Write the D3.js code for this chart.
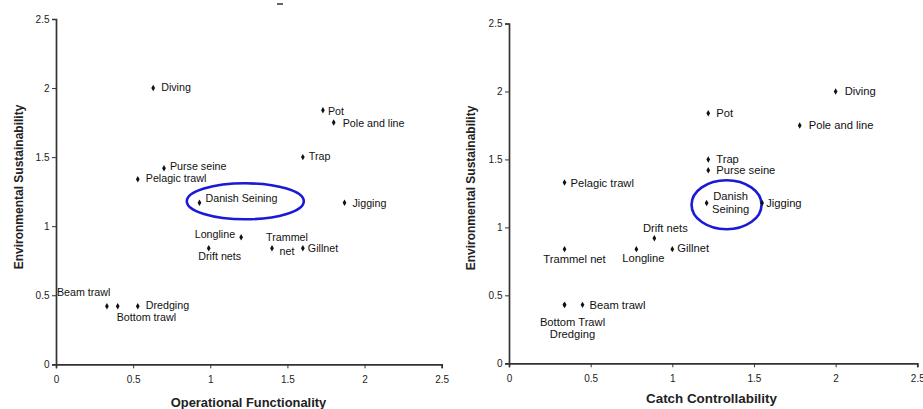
<!DOCTYPE html>
<html>
<head>
<meta charset="utf-8">
<script src="https://cdn.jsdelivr.net/npm/d3@7"></script>
<style>
  body { margin: 0; background: #fff; }
  svg { display: block; font-family: "Liberation Sans", Arial, sans-serif; }
  .tick text { font-size: 10px; fill: #222; }
  .domain, .tick line { stroke: #333; }
  .pt-label { fill: #111; }
  .axis-title { font-weight: bold; fill: #222; }
</style>
</head>
<body>
<div id="chart"></div>
<script>
// Data
var tickValues = [0, 0.5, 1, 1.5, 2, 2.5];

// left panel: Operational Functionality vs Environmental Sustainability
var leftNames = ["Diving", "Pot", "Pole and line", "Trap", "Purse seine", "Pelagic trawl",
  "Danish Seining", "Jigging", "Longline", "Drift nets", "Trammel\nnet", "Gillnet",
  "Beam trawl", "Bottom trawl", "Dredging"];
var operationalFunctionality = [0.63, 1.73, 1.80, 1.60, 0.70, 0.53, 0.93, 1.87, 1.20, 0.99, 1.40, 1.60, 0.33, 0.40, 0.53];
var leftSustainability = [2.0, 1.84, 1.75, 1.50, 1.42, 1.34, 1.17, 1.17, 0.92, 0.84, 0.84, 0.84, 0.42, 0.42, 0.42];

// right panel: Catch Controllability vs Environmental Sustainability
var rightNames = ["Diving", "Pot", "Pole and line", "Trap", "Purse seine", "Pelagic trawl",
  "Danish\nSeining", "Jigging", "Drift nets", "Trammel net", "Longline", "Gillnet",
  "Beam trawl", "Bottom Trawl", "Dredging"];
var catchControllability = [2.0, 1.22, 1.78, 1.22, 1.22, 0.34, 1.21, 1.55, 0.89, 0.34, 0.78, 1.0, 0.45, 0.34, 0.34];
var rightSustainability = [2.0, 1.84, 1.75, 1.50, 1.42, 1.33, 1.18, 1.18, 0.92, 0.84, 0.84, 0.84, 0.43, 0.43, 0.43];

// label placement (dx, dy, anchor) relative to each point
var leftPlace = [
  [8, 3, "start"], [5, 5, "start"], [9, 4, "start"], [6, 3, "start"], [6, 2, "start"], [8, 3, "start"],
  [6, -1, "start"], [8, 4, "start"], [-6, 1, "end"], [11, 12, "middle"], [15, -7, "middle"], [5, 4, "start"],
  [-50, -10, "start"], [-1, 15, "start"], [8, 3, "start"]
];
var rightPlace = [
  [9, 4, "start"], [8, 4, "start"], [9, 4, "start"], [8, 4, "start"], [8, 4, "start"], [6, 4, "start"],
  [24, -3, "middle"], [4, 4, "start"], [11, -6, "middle"], [10, 14, "middle"], [7, 13, "middle"], [5, 3, "start"],
  [7, 4, "start"], [8, 21, "middle"], [8, 33, "middle"]
];

var svgWidth = 923;
var svgHeight = 409;

var svg = d3.select("#chart")
  .append("svg")
  .attr("width", svgWidth)
  .attr("height", svgHeight);

svg.append("rect").attr("width", svgWidth).attr("height", svgHeight).attr("fill", "#fff");

// small stray mark at the top of the original figure
svg.append("line")
  .attr("x1", 277).attr("x2", 283).attr("y1", 4).attr("y2", 4)
  .attr("stroke", "#333").attr("stroke-width", 1.5);

function drawPanel(p) {
  var xScale = d3.scaleLinear().domain([0, 2.5]).range([p.x0, p.x1]);
  var yScale = d3.scaleLinear().domain([0, 2.5]).range([p.y0, p.y1]);

  var g = svg.append("g");

  g.append("g")
    .attr("transform", `translate(0, ${p.y0})`)
    .call(d3.axisBottom(xScale).tickValues(tickValues).tickFormat(d3.format("")).tickSize(4).tickPadding(p.xPad))
    .call(a => a.select(".domain").attr("stroke", p.axisColor).attr("stroke-width", 1.7));

  g.append("g")
    .attr("transform", `translate(${p.x0}, 0)`)
    .call(d3.axisLeft(yScale).tickValues(tickValues).tickFormat(d3.format("")).tickSize(4).tickPadding(2.5))
    .call(a => a.select(".domain").attr("stroke", p.axisColor).attr("stroke-width", 1.7));

  // highlight ellipse
  g.append("ellipse")
    .attr("cx", xScale(p.ellipse[0]))
    .attr("cy", yScale(p.ellipse[1]))
    .attr("rx", p.ellipse[2])
    .attr("ry", p.ellipse[3])
    .attr("fill", "none")
    .attr("stroke", "#1a1ad6")
    .attr("stroke-width", 2.6);

  var pts = p.names.map((n, i) => ({ name: n, x: p.xs[i], y: p.ys[i], place: p.place[i] }));

  g.selectAll("path.pt")
    .data(pts)
    .enter()
    .append("path")
    .attr("class", "pt")
    .attr("d", d3.symbol(d3.symbolDiamond, 12))
    .attr("transform", d => `translate(${xScale(d.x)}, ${yScale(d.y)})`)
    .attr("fill", "#111");

  var labels = g.selectAll("text.pt-label")
    .data(pts)
    .enter()
    .append("text")
    .attr("class", "pt-label")
    .attr("font-size", p.labelSize)
    .attr("text-anchor", d => d.place[2]);

  labels.each(function(d) {
    var lines = d.name.split("\n");
    var t = d3.select(this);
    lines.forEach(function(line, k) {
      t.append("tspan")
        .attr("x", xScale(d.x) + d.place[0])
        .attr("y", yScale(d.y) + d.place[1] + k * 13.3)
        .text(line);
    });
  });

  // axis titles
  g.append("text")
    .attr("class", "axis-title")
    .attr("font-size", p.xTitleSize)
    .attr("text-anchor", "middle")
    .attr("x", p.xTitleX)
    .attr("y", p.xTitleY)
    .text(p.xTitle);

  g.append("text")
    .attr("class", "axis-title")
    .attr("font-size", 12)
    .attr("text-anchor", "middle")
    .attr("transform", `translate(${p.yTitleX}, ${p.yTitleY}) rotate(-90)`)
    .text("Environmental Sustainability");
}

drawPanel({
  x0: 56, x1: 441.7, y0: 364.3, y1: 19, axisColor: "#444", xPad: 8,
  names: leftNames, xs: operationalFunctionality, ys: leftSustainability, place: leftPlace,
  labelSize: 10.7,
  ellipse: [1.227, 1.18, 58.5, 18],
  xTitle: "Operational Functionality", xTitleSize: 12.9, xTitleX: 248.5, xTitleY: 407,
  yTitleX: 22.5, yTitleY: 187
});

drawPanel({
  x0: 509, x1: 917.3, y0: 363.3, y1: 23.5, axisColor: "#111", xPad: 7.5,
  names: rightNames, xs: catchControllability, ys: rightSustainability, place: rightPlace,
  labelSize: 11.2,
  ellipse: [1.332, 1.167, 35, 24.5],
  xTitle: "Catch Controllability", xTitleSize: 13.4, xTitleX: 711.5, xTitleY: 402.5,
  yTitleX: 474.5, yTitleY: 188
});
</script>
</body>
</html>
